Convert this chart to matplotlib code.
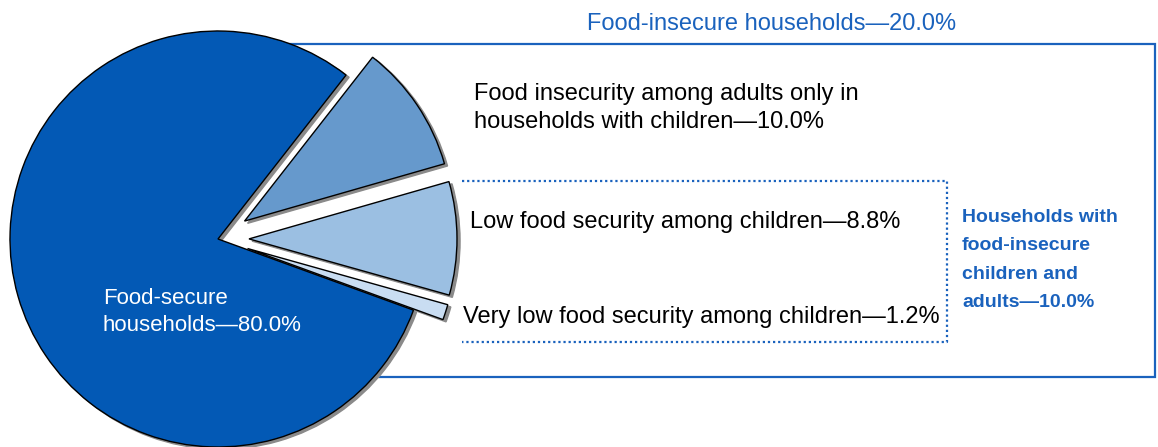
import matplotlib
matplotlib.use("Agg")
import matplotlib.pyplot as plt
from matplotlib.patches import Rectangle

plt.rcParams['font.family'] = ['Liberation Sans', 'DejaVu Sans']

# ---- data ----
categories = [
    "Food insecurity among adults only in\nhouseholds with children",
    "Low food security among children",
    "Very low food security among children",
    "Food-secure\nhouseholds",
]
shares = [10.0, 8.8, 1.2, 80.0]
explode = [32, 31, 31, 0]  # in pixel-scaled data units
colors = ["#6699cc", "#9bbfe2", "#c9ddf2", "#0359b5"]
total_insecure = 20.0
children_and_adults = 10.0

W, H = 1158, 447
fig = plt.figure(figsize=(W / 100, H / 100), dpi=100)
ax = fig.add_axes([0, 0, 1, 1])

def Y(y):
    return H - y

blue = "#1a62bd"

# outer solid box (behind pie)
ax.add_patch(Rectangle((218, Y(377)), 1155 - 218, 377 - 44, fill=False,
                       edgecolor=blue, linewidth=1.6, zorder=0.2))

wedges, _ = ax.pie(shares, explode=explode, colors=colors, startangle=52,
                   counterclock=False, center=(218, Y(239)), radius=208,
                   frame=True,
                   wedgeprops=dict(edgecolor="black", linewidth=1.0),
                   shadow={"ox": 2.2, "oy": -1.6, "facecolor": "#8a8a8a",
                           "edgecolor": "#8a8a8a", "alpha": 1.0})

ax.set_xlim(0, W)
ax.set_ylim(0, H)
ax.set_aspect("equal")
ax.axis("off")

# dotted bracket box
ax.plot([462, 947, 947, 462], [Y(181), Y(181), Y(342), Y(342)],
        color=blue, linestyle=(0, (1, 1.3)), linewidth=1.6, zorder=0.3)

fs = 17
ax.text(772, Y(24), f"Food-insecure households\u2014{total_insecure:.1f}%",
        color=blue, fontsize=fs, ha="center", va="center")
ax.text(474, Y(108), f"{categories[0]}\u2014{shares[0]:.1f}%",
        color="black", fontsize=fs, ha="left", va="center", linespacing=1.3)
ax.text(470, Y(222), f"{categories[1]}\u2014{shares[1]:.1f}%",
        color="black", fontsize=fs, ha="left", va="center")
ax.text(463, Y(317), f"{categories[2]}\u2014{shares[2]:.1f}%",
        color="black", fontsize=fs, ha="left", va="center")
ax.text(962, Y(260),
        f"Households with\nfood-insecure\nchildren and\nadults\u2014{children_and_adults:.1f}%",
        color=blue, fontsize=14, fontweight="bold", ha="left", va="center",
        linespacing=1.88)
ax.text(103, Y(312), f"{categories[3]}\u2014{shares[3]:.1f}%",
        color="white", fontsize=16, ha="left", va="center", linespacing=1.4)

fig.savefig("out.png", dpi=100)
